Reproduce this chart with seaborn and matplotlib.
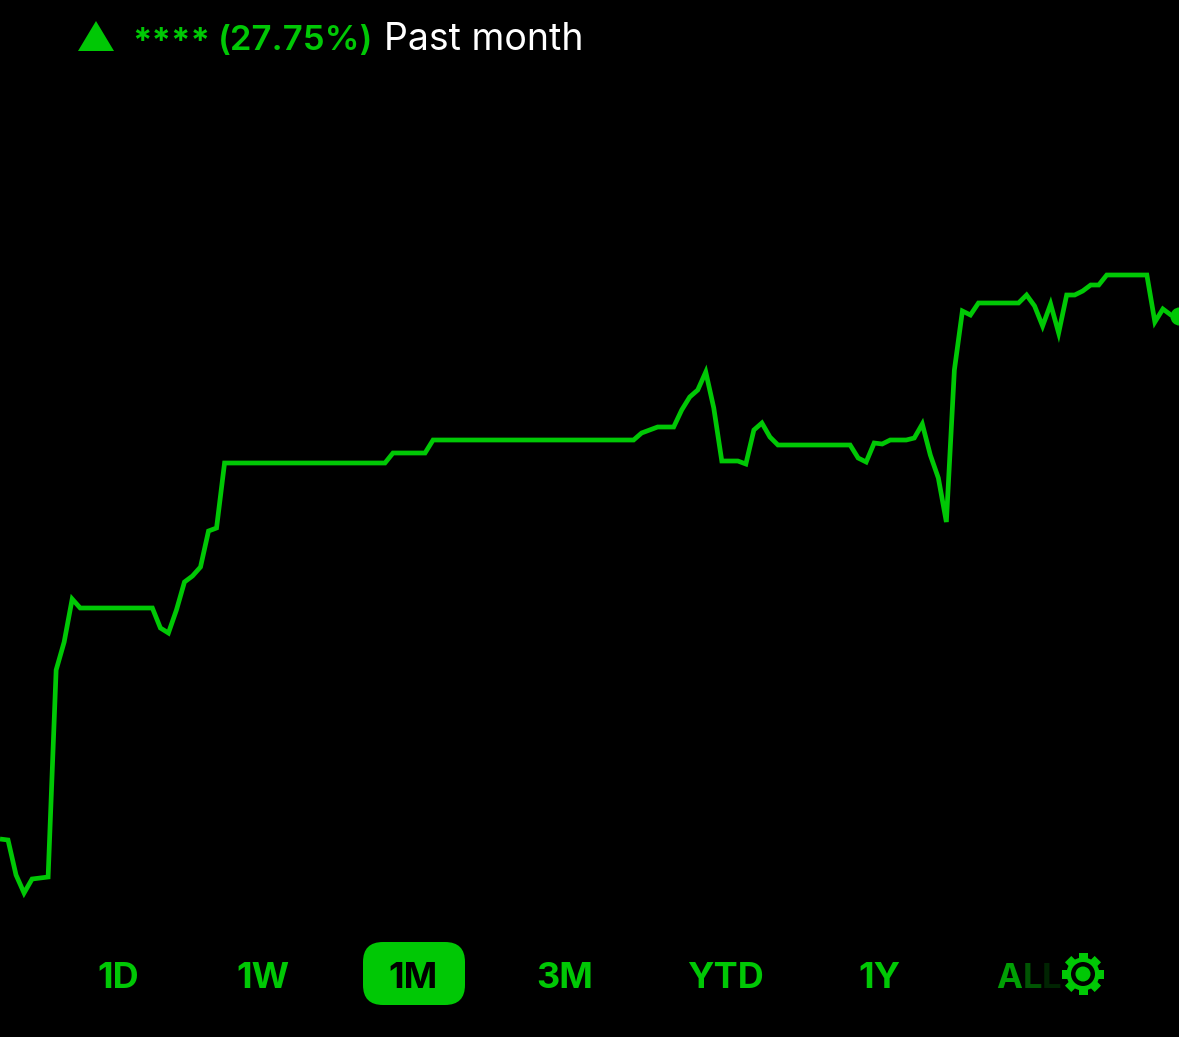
import numpy as np
import pandas as pd
import matplotlib
matplotlib.use('Agg')
import matplotlib.pyplot as plt
from matplotlib.patches import Polygon, Circle, Rectangle, FancyBboxPatch
from matplotlib.transforms import Affine2D
import seaborn as sns

GREEN = '#00c805'

# portfolio value, one sample per step, past month
values = [
    198, 197, 162, 144, 158, 159, 160, 367, 395, 438,
    429, 429, 429, 429, 429, 429, 429, 429, 429, 429,
    409, 404, 427, 455, 461, 470, 506, 509, 574, 574,
    574, 574, 574, 574, 574, 574, 574, 574, 574, 574,
    574, 574, 574, 574, 574, 574, 574, 574, 574, 584,
    584, 584, 584, 584, 597, 597, 597, 597, 597, 597,
    597, 597, 597, 597, 597, 597, 597, 597, 597, 597,
    597, 597, 597, 597, 597, 597, 597, 597, 597, 597,
    604, 607, 610, 610, 610, 627, 640, 647, 665, 629,
    576, 576, 576, 573, 607, 614, 600, 592, 592, 592,
    592, 592, 592, 592, 592, 592, 592, 579, 575, 594,
    593, 597, 597, 597, 599, 613, 582, 559, 515, 667,
    726, 722, 734, 734, 734, 734, 734, 734, 742, 731,
    711, 733, 704, 742, 742, 746, 752, 752, 762, 762,
    762, 762, 762, 762, 715, 728, 722, 721,
]
samples = list(range(len(values)))

ranges = ['1D', '1W', '1M', '3M', 'YTD', '1Y']
range_x = [118, 263, 413, 565, 725, 879]
active_range = '1M'

all_letters = ['A', 'L', 'L']
all_x = [1009, 1033, 1052]
all_colors = ['#00a004', '#005503', '#002402']

stars = '****'
change_pct = '(27.75%)'
period = 'Past month'

df = pd.DataFrame({'sample': samples, 'value': values})

sns.set_theme(style='white', rc={'figure.facecolor': 'black', 'axes.facecolor': 'black'})
plt.rcParams['font.family'] = ['Inter', 'DejaVu Sans']

fig = plt.figure(figsize=(11.79, 10.37), dpi=100)
ax = fig.add_axes([0, 0, 1, 1])
sns.lineplot(data=df, x='sample', y='value', color=GREEN, linewidth=3.4, ax=ax,
             solid_joinstyle='miter', solid_capstyle='butt', errorbar=None)
sns.scatterplot(data=df.tail(1), x='sample', y='value', color=GREEN, s=170,
                linewidth=0, ax=ax, zorder=5)
ax.set_xlim(0, 1179 / 8.02)
ax.set_ylim(0, 1037)
ax.axis('off')

# header and buttons sit on a pixel layer
ui = fig.add_axes([0, 0, 1, 1], facecolor='none')
ui.set_xlim(0, 1179)
ui.set_ylim(1037, 0)
ui.axis('off')

ui.add_patch(Polygon([(78, 51), (114, 51), (96, 21)], closed=True, color=GREEN, lw=0))
ui.text(132, 52, stars, color=GREEN, fontsize=25, fontweight='bold', va='baseline')
ui.text(218, 50, change_pct, color=GREEN, fontsize=25, fontweight='semibold', va='baseline')
ui.text(384, 50, period, color='white', fontsize=27, va='baseline')

ui.add_patch(FancyBboxPatch((363, 942), 102, 63, boxstyle='round,pad=0,rounding_size=20',
                            color=GREEN, lw=0))

for name, x in zip(ranges, range_x):
    col = 'black' if name == active_range else GREEN
    ui.text(x, 988, name, color=col, fontsize=26, fontweight='bold', ha='center', va='baseline')

for letter, x, col in zip(all_letters, all_x, all_colors):
    ui.text(x, 988, letter, color=col, fontsize=25, fontweight='bold', ha='center', va='baseline')

# settings gear
gx, gy = 1083, 974
for k in range(8):
    t = Affine2D().rotate_deg(45 * k).translate(gx, gy) + ui.transData
    ui.add_patch(Rectangle((-4.5, -21), 9, 10, color=GREEN, lw=0, transform=t))
ui.add_patch(Circle((gx, gy), 16.5, color=GREEN, lw=0))
ui.add_patch(Circle((gx, gy), 12, color='black', lw=0))
ui.add_patch(Circle((gx, gy), 7.5, color=GREEN, lw=0))

fig.savefig('out.png', dpi=100, facecolor='black')
